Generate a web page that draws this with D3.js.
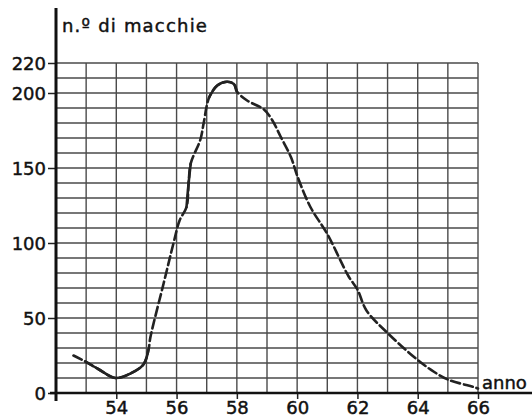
<!DOCTYPE html>
<html>
<head>
<meta charset="utf-8">
<script src="https://cdn.jsdelivr.net/npm/d3@7"></script>
<style>
  html, body { margin: 0; padding: 0; background: #fff; }
  svg { display: block; }
  text { font-family: "DejaVu Sans", Arial, sans-serif; fill: #111; stroke: #111; stroke-width: 0.45px; }
</style>
</head>
<body>
<svg id="chart" width="532" height="420"></svg>
<script>
// Sunspot count per year (fractional years trace the hand-drawn curve)
const years  = [52.58, 52.97, 53.4, 53.97, 54.47, 54.9, 55.07, 55.13, 55.57, 55.9, 56.1, 56.33, 56.4, 56.47, 56.79, 56.9, 57.08, 57.35, 57.67, 57.9, 58.0, 58.34, 58.9, 59.17, 59.45, 59.8, 60.0, 60.44, 61.0, 61.7, 62.0, 62.3, 63.0, 64.0, 64.55, 65.0, 65.85, 66.0];
const spots  = [25, 21, 16, 10, 13, 19, 29, 37, 73, 100, 115, 124, 140, 153, 169, 180, 197, 205, 207.5, 206, 201, 195, 189, 182, 171, 157, 145, 124, 106, 78, 69, 55, 40, 22, 14, 9, 4, 3];

// stretches of the curve drawn as a continuous stroke (index ranges into the arrays)
const solidRuns = [[1, 6], [11, 13], [16, 20]];

const yTickValues = [0, 50, 100, 150, 200, 220];
const xTickValues = [54, 56, 58, 60, 62, 64, 66];
const yTitle = "n.º di macchie";
const xTitle = "anno";

const W = 532, H = 420;
const margin = { top: 63, right: 54, bottom: 27, left: 56 };
const innerW = W - margin.left - margin.right;
const innerH = H - margin.top - margin.bottom;

const svg = d3.select("#chart");
const g = svg.append("g").attr("transform", `translate(${margin.left},${margin.top})`);

const x = d3.scaleLinear().domain([52, 66]).range([0, innerW]);
const y = d3.scaleLinear().domain([0, 220]).range([innerH, 0]);

// grid paper
const gridColor = "#4a4a4a";
g.append("g").selectAll("line.v")
  .data(d3.range(53, 67))
  .join("line")
  .attr("x1", d => x(d)).attr("x2", d => x(d))
  .attr("y1", y(0)).attr("y2", y(220))
  .attr("stroke", gridColor).attr("stroke-width", 1.4);

g.append("g").selectAll("line.h")
  .data(d3.range(10, 230, 10))
  .join("line")
  .attr("x1", x(52)).attr("x2", x(66))
  .attr("y1", d => y(d)).attr("y2", d => y(d))
  .attr("stroke", gridColor).attr("stroke-width", 1.4);

// axes
const yAxis = d3.axisLeft(y).tickValues(yTickValues).tickSize(8).tickPadding(2);
const yA = g.append("g").call(yAxis);
yA.select(".domain").remove();
yA.selectAll(".tick line").attr("stroke", "#222").attr("stroke-width", 1.5);
yA.selectAll(".tick text").attr("font-size", 18).attr("fill", "#111")
  .attr("font-family", '"DejaVu Sans", Arial, sans-serif').attr("dy", "0.36em");

const xAxis = d3.axisBottom(x).tickValues(xTickValues).tickSize(6).tickPadding(2);
const xA = g.append("g").attr("transform", `translate(0,${innerH})`).call(xAxis);
xA.select(".domain").remove();
xA.selectAll(".tick line").attr("stroke", "#222").attr("stroke-width", 1.5);
xA.selectAll(".tick text").attr("font-size", 18).attr("fill", "#111")
  .attr("font-family", '"DejaVu Sans", Arial, sans-serif');

// heavy axis lines
g.append("line")
  .attr("x1", x(52)).attr("x2", x(52))
  .attr("y1", -55).attr("y2", innerH + 8)
  .attr("stroke", "#111").attr("stroke-width", 3);
g.append("line")
  .attr("x1", x(52) - 6).attr("x2", W - margin.left)
  .attr("y1", innerH).attr("y2", innerH)
  .attr("stroke", "#111").attr("stroke-width", 2.5);

// axis titles
g.append("text")
  .attr("x", x(52) + 6).attr("y", -31)
  .attr("font-size", 18).attr("letter-spacing", 1.2)
  .text(yTitle);
g.append("text")
  .attr("x", x(66) + 4).attr("y", innerH - 4)
  .attr("font-size", 18)
  .text(xTitle);

// sunspot curve
const pts = years.map((d, i) => [d, spots[i]]);
const line = d3.line()
  .x(d => x(d[0]))
  .y(d => y(d[1]))
  .curve(d3.curveCatmullRom.alpha(0.5));

g.append("path")
  .attr("d", line(pts))
  .attr("fill", "none")
  .attr("stroke", "#222")
  .attr("stroke-width", 2.6)
  .attr("stroke-dasharray", "9,4")
  .attr("stroke-linecap", "round");

solidRuns.forEach(([a, b]) => {
  g.append("path")
    .attr("d", line(pts.slice(a, b + 1)))
    .attr("fill", "none")
    .attr("stroke", "#222")
    .attr("stroke-width", 2.6)
    .attr("stroke-linecap", "round");
});
</script>
</body>
</html>
